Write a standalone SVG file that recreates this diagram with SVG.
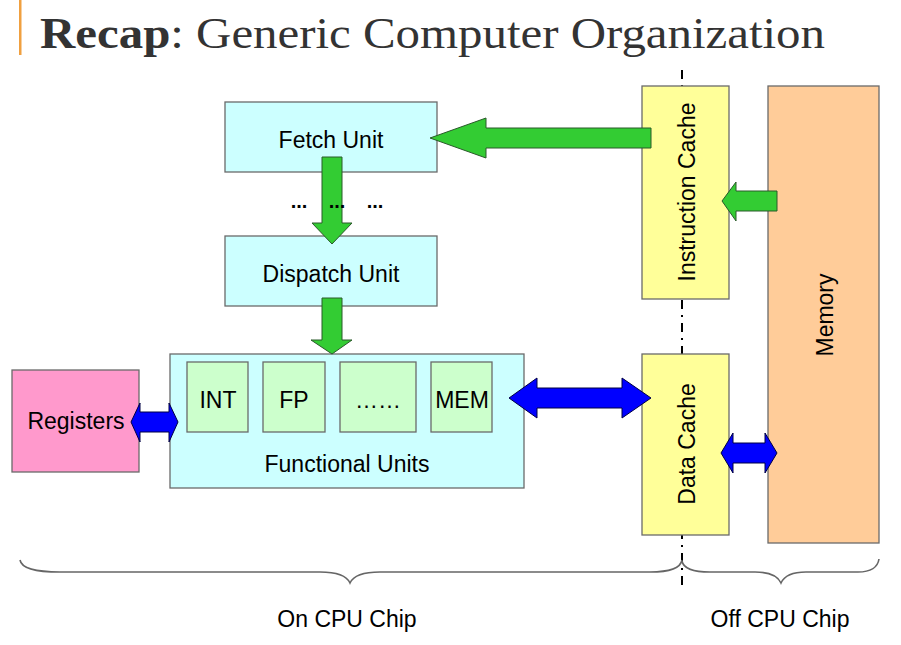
<svg xmlns="http://www.w3.org/2000/svg" width="901" height="645" viewBox="0 0 901 645">
<style>
.box{stroke:#6a6a6a;stroke-width:1.3}
.cyan{fill:#ccffff}
.lg{fill:#ccffcc}
.t{font-family:"Liberation Sans",Arial,sans-serif;font-size:23px;fill:#000;text-anchor:middle}
.d{font-family:"Liberation Sans",Arial,sans-serif;font-size:20px;font-weight:bold;fill:#000;text-anchor:middle}
.ga{fill:#33cc33;stroke:#2a5a2a;stroke-width:1}
.ba{fill:#0000ff;stroke:#000044;stroke-width:1}
.brace{fill:none;stroke:#666;stroke-width:1.6}
</style>
<rect x="0" y="0" width="901" height="645" fill="#fff"/>
<rect x="19" y="0" width="2.5" height="55" fill="#f0a040"/>
<text x="40" y="48" font-family="'Liberation Serif','Times New Roman',serif" font-size="44" fill="#333" textLength="785" lengthAdjust="spacingAndGlyphs"><tspan font-weight="bold">Recap</tspan>: Generic Computer Organization</text>

<line x1="682" y1="70" x2="682" y2="586" stroke="#000" stroke-width="2" stroke-dasharray="9 6 2 6"/>

<g id="fetch"><rect class="box cyan" x="225" y="102" width="212" height="70"/><text class="t" x="331" y="148">Fetch Unit</text></g>
<g id="dispatch"><rect class="box cyan" x="225" y="236" width="212" height="70"/><text class="t" x="331" y="282">Dispatch Unit</text></g>
<g id="fu"><rect class="box cyan" x="170" y="354" width="354" height="134"/><text class="t" x="347" y="472">Functional Units</text></g>
<g id="int"><rect class="box lg" x="187" y="362" width="61" height="70"/><text class="t" x="218" y="408">INT</text></g>
<g id="fp"><rect class="box lg" x="263" y="362" width="62" height="70"/><text class="t" x="294" y="408">FP</text></g>
<g id="more"><rect class="box lg" x="340" y="362" width="76" height="70"/><text class="t" x="378" y="408">……</text></g>
<g id="mem"><rect class="box lg" x="431" y="362" width="61" height="70"/><text class="t" x="462" y="408">MEM</text></g>
<g id="registers"><rect class="box" fill="#ff99cc" x="12" y="370" width="127" height="102"/><text class="t" x="76" y="429">Registers</text></g>
<g id="icache"><rect class="box" fill="#ffff99" x="642" y="86" width="87" height="213"/><text class="t" transform="translate(695,192) rotate(-90)">Instruction Cache</text></g>
<g id="dcache"><rect class="box" fill="#ffff99" x="642" y="354" width="87" height="181"/><text class="t" transform="translate(695,444) rotate(-90)">Data Cache</text></g>
<g id="memory"><rect class="box" fill="#ffcc99" x="768" y="86" width="111" height="457"/><text class="t" transform="translate(833,315) rotate(-90)">Memory</text></g>

<g id="connectors">
<polygon class="ga" points="651,128 486,128 486,118 430,138 486,158 486,148 651,148"/>
<polygon class="ga" points="322,157 342,157 342,223 352,223 332,244 312,223 322,223"/>
<polygon class="ga" points="322,298 342,298 342,340 352,340 332,354 311,340 322,340"/>
<polygon class="ga" points="777,191 736,191 736,182 722,201 736,221 736,211 777,211"/>
<polygon class="ba" points="509,398 537,378 537,388 622,388 622,378 651,398 622,418 622,408 537,408 537,418"/>
<polygon class="ba" points="131,422 140,403 140,412 169,412 169,403 178,422 169,442 169,432 140,432 140,442"/>
<polygon class="ba" points="721,453 733,433 733,443 765,443 765,433 777,453 765,473 765,463 733,463 733,473"/>
</g>
<text class="d" x="299" y="208">...</text>
<text class="d" x="337" y="208">...</text>
<text class="d" x="375" y="208">...</text>

<path class="brace" d="M20,560 Q22,572 60,572 L320,572 Q345,572 350,583 Q355,572 380,572 L650,572 Q680,572 682,560"/>
<path class="brace" d="M682,561 Q684,572 710,572 L755,572 Q776,572 781,583 Q786,572 806,572 L858,572 Q877,572 879,559"/>
<text class="t" x="347" y="627">On CPU Chip</text>
<text class="t" x="780" y="627">Off CPU Chip</text>
</svg>
